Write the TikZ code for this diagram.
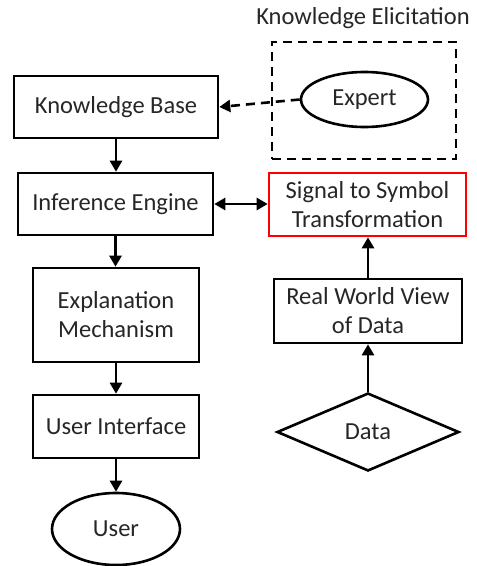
\documentclass[tikz,border=0pt]{standalone}
\usepackage{fontspec}
\setmainfont{Carlito}
\usetikzlibrary{shapes.geometric,arrows.meta}
\begin{document}
\begin{tikzpicture}[x=1pt,y=-1pt,
  every node/.style={font=\fontsize{24.5}{29}\selectfont, align=center, inner sep=0pt, text=black!85},
  box/.style={draw, line width=2.6pt, rectangle},
  redbox/.style={draw=red, line width=2.6pt, rectangle},
  oval/.style={draw, line width=2.6pt, ellipse},
  dia/.style={draw, line width=2.6pt, diamond},
  arr/.style={line width=2.6pt, -{Triangle[width=12pt,length=11pt]}},
  darr/.style={line width=2.6pt, {Triangle[width=12pt,length=11pt]}-{Triangle[width=12pt,length=11pt]}},
  dasharr/.style={line width=2.6pt, dash pattern=on 9pt off 6pt, -{Triangle[width=12pt,length=11pt]}},
  group/.style={draw, line width=2.6pt, dash pattern=on 9pt off 6pt, rectangle}
]
\useasboundingbox (0,0) rectangle (477,566);
\node[group, minimum width=184pt, minimum height=117pt] (grp) at (364,100.5) {};
\node (kelab) at (363,18) {Knowledge Elicitation};
\node[oval, minimum width=127pt, minimum height=55pt] (expert) at (364.5,99.5) {Expert};
\node[box, minimum width=204pt, minimum height=62pt] (kb) at (116,107) {Knowledge Base};
\node[box, minimum width=195pt, minimum height=62pt] (ie) at (115.5,204) {Inference Engine};
\node[redbox, minimum width=197pt, minimum height=63pt] (sig) at (367.5,204.5) {Signal to Symbol\\Transformation};
\node[box, minimum width=166pt, minimum height=94pt] (ex) at (116,315) {Explanation\\Mechanism};
\node[box, minimum width=188pt, minimum height=64pt] (rw) at (368,311) {Real World View\\of Data};
\node[box, minimum width=166pt, minimum height=63pt] (ui) at (116,426.5) {User Interface};
\node[oval, minimum width=128pt, minimum height=72pt] (user) at (116,529) {User};
\node[dia, minimum width=182pt, minimum height=78pt] (data) at (368,432) {Data};
\draw[dasharr] (expert.west) -- (kb.east);
\draw[arr] (kb.south) -- (kb.south |- ie.north);
\draw[arr] (ie.south) -- (ie.south |- ex.north);
\draw[arr] (ex.south) -- (ui.north);
\draw[arr] (ui.south) -- (user.north);
\draw[darr] (ie.east) -- (ie.east -| sig.west);
\draw[arr] (rw.north) -- (sig.south -| rw.north);
\draw[arr] (data.north) -- (rw.south);
\end{tikzpicture}
\end{document}
